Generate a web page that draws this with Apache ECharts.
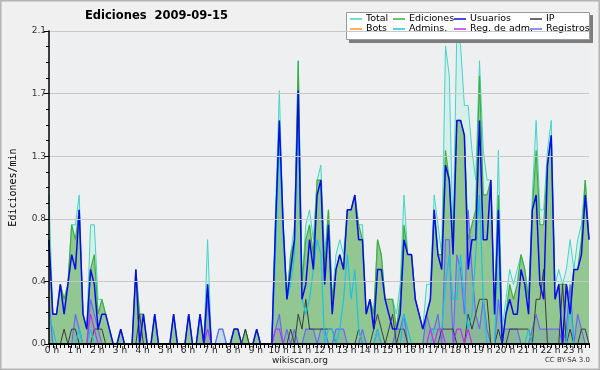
<!DOCTYPE html>
<html>
<head>
<meta charset="utf-8">
<script src="https://cdn.jsdelivr.net/npm/echarts@6/dist/echarts.min.js"></script>
<style>
  html, body { margin: 0; padding: 0; background: #f0f0f0; }
  #chart { width: 600px; height: 370px; }
</style>
</head>
<body>
<div id="chart"></div>
<script>
// one value every 10 min, edits per minute
var hourLabels = ["0 h","1 h","2 h","3 h","4 h","5 h","6 h","7 h","8 h","9 h","10 h","11 h",
  "12 h","13 h","14 h","15 h","16 h","17 h","18 h","19 h","20 h","21 h","22 h","23 h"];
var yTicks = [0, 0.42, 0.84, 1.26, 1.68, 2.1];

var total = [
  1.0,0.2,0.2,0.4,0.3,0.4, 0.8,0.8,1.0,0.2,0.1,0.8, 0.8,0.3,0.3,0.2,0.1,0.0,
  0.0,0.1,0.0,0.0,0.0,0.5, 0.2,0.2,0.0,0.0,0.2,0.0, 0.0,0.0,0.0,0.2,0.0,0.0,
  0.0,0.2,0.0,0.0,0.2,0.0, 0.7,0.0,0.0,0.1,0.1,0.0, 0.0,0.1,0.1,0.0,0.1,0.0,
  0.0,0.1,0.0,0.0,0.0,0.0, 0.9,1.7,0.8,0.3,0.6,0.8, 1.9,0.4,0.8,0.9,0.7,1.1,
  1.2,0.6,0.9,0.3,0.6,0.7, 0.6,0.9,0.9,1.0,0.8,0.8, 0.2,0.3,0.2,0.7,0.6,0.3,
  0.3,0.3,0.2,0.4,1.0,0.6, 0.6,0.3,0.2,0.1,0.4,0.4, 1.0,0.8,0.6,2.0,1.8,0.7,
  2.1,2.0,1.6,1.6,1.3,1.1, 1.9,1.3,1.1,1.1,0.2,1.3, 0.1,0.3,0.5,0.4,0.5,0.6,
  0.5,0.3,1.0,1.5,0.9,0.9, 1.3,1.5,0.4,0.5,0.4,0.5, 0.7,0.5,0.7,0.8,1.1,0.7
];
var ediciones = [
  0.7,0.2,0.2,0.4,0.3,0.4, 0.8,0.7,0.9,0.2,0.1,0.5, 0.6,0.2,0.3,0.2,0.1,0.0,
  0.0,0.1,0.0,0.0,0.0,0.5, 0.2,0.2,0.0,0.0,0.2,0.0, 0.0,0.0,0.0,0.2,0.0,0.0,
  0.0,0.2,0.0,0.0,0.2,0.0, 0.4,0.0,0.0,0.0,0.0,0.0, 0.0,0.1,0.1,0.0,0.1,0.0,
  0.0,0.1,0.0,0.0,0.0,0.0, 0.8,1.5,0.8,0.3,0.6,0.7, 1.9,0.4,0.7,0.8,0.6,1.1,
  1.1,0.5,0.9,0.3,0.5,0.6, 0.5,0.9,0.9,1.0,0.8,0.7, 0.2,0.3,0.2,0.7,0.6,0.3,
  0.3,0.3,0.1,0.3,0.8,0.6, 0.6,0.3,0.2,0.1,0.2,0.3, 0.9,0.6,0.6,1.3,1.1,0.7,
  1.5,1.5,1.4,0.7,0.8,0.9, 1.8,1.0,1.0,1.1,0.2,1.0, 0.0,0.2,0.4,0.3,0.4,0.6,
  0.5,0.3,0.9,1.3,0.8,0.8, 1.2,1.4,0.3,0.4,0.4,0.4, 0.3,0.5,0.5,0.7,1.1,0.7
];
var usuarios = [
  0.7,0.2,0.2,0.4,0.2,0.4, 0.6,0.5,0.9,0.2,0.1,0.5, 0.4,0.1,0.2,0.2,0.1,0.0,
  0.0,0.1,0.0,0.0,0.0,0.5, 0.0,0.2,0.0,0.0,0.2,0.0, 0.0,0.0,0.0,0.2,0.0,0.0,
  0.0,0.2,0.0,0.0,0.2,0.0, 0.4,0.0,0.0,0.0,0.0,0.0, 0.0,0.1,0.1,0.0,0.0,0.0,
  0.0,0.1,0.0,0.0,0.0,0.0, 0.8,1.5,0.8,0.3,0.5,0.7, 1.7,0.3,0.4,0.7,0.5,1.0,
  1.1,0.4,0.8,0.2,0.5,0.6, 0.5,0.9,0.9,1.0,0.7,0.7, 0.2,0.3,0.1,0.5,0.5,0.3,
  0.2,0.1,0.1,0.2,0.7,0.6, 0.6,0.3,0.2,0.1,0.2,0.3, 0.9,0.6,0.5,1.2,1.1,0.6,
  1.5,1.5,1.4,0.5,0.7,0.7, 1.5,0.7,0.7,1.1,0.2,0.9, 0.0,0.2,0.3,0.2,0.2,0.5,
  0.4,0.2,0.9,1.0,0.4,0.3, 1.2,1.4,0.3,0.4,0.0,0.4, 0.2,0.5,0.5,0.6,1.0,0.7
];
var ip = [
  0,0,0,0,0.1,0, 0.1,0.1,0,0,0,0, 0.1,0.1,0.1,0,0,0,
  0,0,0,0,0,0, 0.2,0,0,0,0,0, 0,0,0,0,0,0,
  0,0,0,0,0,0, 0,0,0,0,0,0, 0,0,0,0,0.1,0,
  0,0,0,0,0,0, 0,0,0,0,0.1,0, 0.2,0.1,0.3,0.1,0.1,0.1,
  0.1,0.1,0.1,0.1,0,0, 0,0,0,0,0.1,0, 0,0,0.1,0.2,0.1,0,
  0.1,0.2,0,0.1,0.1,0, 0,0,0,0,0,0, 0,0,0.1,0.1,0.1,0.1,
  0,0,0,0.2,0.1,0.2, 0.3,0.3,0.3,0,0,0.1, 0,0,0.1,0.1,0.1,0.1,
  0.1,0.1,0,0.3,0.3,0.5, 0,0,0,0,0.4,0, 0.1,0,0,0.1,0.1,0
];
var registros = [
  0.3,0,0,0,0,0, 0,0.2,0.1,0,0,0.3, 0.2,0.1,0,0,0,0,
  0,0,0,0,0,0, 0,0,0,0,0,0, 0,0,0,0,0,0,
  0,0,0,0,0,0, 0.3,0,0,0.1,0.1,0, 0,0,0,0,0,0,
  0,0,0,0,0,0, 0.1,0.2,0,0.1,0,0.1, 0,0,0.1,0.1,0.1,0,
  0.1,0.1,0,0,0.1,0.1, 0.1,0,0,0,0,0.1, 0,0,0,0.1,0,0,
  0,0,0.1,0.1,0.2,0, 0,0,0,0,0.2,0.1, 0.1,0.2,0,0.7,0.7,0,
  0.6,0.5,0.2,0.9,0.5,0.2, 0.1,0.3,0.1,0,0,0.3, 0.1,0.1,0.1,0.1,0.1,0,
  0,0,0.1,0.2,0.1,0.1, 0.1,0.1,0.1,0.1,0,0.1, 0.4,0,0.2,0.1,0,0
];
var admins = [
  0.2,0.1,0,0,0,0, 0,0,0.1,0,0,0.1, 0,0,0,0,0,0,
  0,0,0,0,0,0, 0,0,0,0,0,0, 0,0,0,0,0,0,
  0,0,0,0,0,0, 0.1,0,0,0,0,0, 0,0,0,0,0,0,
  0,0,0,0,0,0, 0.6,1.4,0.7,0.3,0.4,0.6, 1.6,0.3,0.2,0.3,0.5,0.7,
  0.6,0,0.1,0.1,0,0.1, 0.3,0.6,0.3,0.5,0.1,0, 0,0,0,0.1,0,0,
  0,0,0,0,0.2,0.1, 0,0,0,0,0,0, 0.1,0.1,0.1,0.4,0.6,0.3,
  0.3,0.6,0.3,0.1,0.2,0.6, 1.0,0.3,0,0,0,0.8, 0,0,0,0,0,0,
  0,0.1,0,0,0,0, 0,0,0,0,0,0, 0.3,0,0,0,0,0
];
var regAdm = [
  0,0,0,0,0,0, 0,0,0,0,0,0.2, 0.1,0,0,0,0,0,
  0,0,0,0,0,0, 0,0,0,0,0,0, 0,0,0,0,0,0,
  0,0,0,0,0,0, 0.1,0,0,0,0,0, 0,0,0,0,0,0,
  0,0,0,0,0,0, 0.1,0.1,0,0,0,0, 0,0,0,0,0,0,
  0,0,0,0,0,0, 0,0,0,0,0,0, 0,0,0,0,0,0,
  0,0,0,0,0,0, 0,0,0,0,0,0.1, 0,0.1,0.1,0,0,0,
  0.1,0.1,0,0.1,0,0, 0,0,0,0,0,0, 0,0,0,0,0,0,
  0,0,0,0,0,0, 0,0,0,0,0,0, 0,0,0,0,0,0
];
var bots = [];

// 144 slots, hour name on the first one of each hour
var slots = [];
hourLabels.forEach(function (h, k) {
  for (var m = 0; m < 6; m++) slots.push(m === 0 ? h : k + ":" + m + "0");
});

var font = "'DejaVu Sans', sans-serif";

function line(name, data, color, width, z, area) {
  var s = {
    name: name,
    type: "line",
    data: data,
    z: z,
    symbol: "none",
    smooth: false,
    itemStyle: { color: color },
    lineStyle: { color: color, width: width },
    emphasis: { disabled: true },
  };
  if (area) s.areaStyle = { color: area, opacity: 1 };
  return s;
}

function legendCol(left, names) {
  return {
    orient: "vertical",
    left: left,
    top: 14,
    data: names,
    icon: "rect",
    itemWidth: 12,
    itemHeight: 1.5,
    itemGap: 0,
    padding: 0,
    selectedMode: false,
    z: 8,
    textStyle: { fontSize: 9.5, lineHeight: 10, color: "#000", fontFamily: font, padding: [0, 0, 0, -1] },
  };
}

var chart = echarts.init(document.getElementById("chart"));
chart.setOption({
  animation: false,
  backgroundColor: "#f0f0f0",
  grid: { left: 46, right: 11, top: 31, bottom: 26, show: true, backgroundColor: "#eeeff1", borderWidth: 0 },
  legend: [
    legendCol(350, ["Total", "Bots"]),
    legendCol(393, ["Ediciones", "Admins."]),
    legendCol(454, ["Usuarios", "Reg. de adm."]),
    legendCol(530, ["IP", "Registros"]),
  ],
  xAxis: {
    type: "category",
    data: slots,
    boundaryGap: false,
    z: 10,
    axisLine: { lineStyle: { color: "#000", width: 2 } },
    axisTick: { interval: 0, length: 4, lineStyle: { color: "#000", width: 1 } },
    axisLabel: { interval: 5, margin: 2, fontSize: 9, color: "#222", fontFamily: font, padding: [0, 0, 0, 6] },
    splitLine: { show: false },
  },
  yAxis: {
    type: "value",
    min: yTicks[0],
    max: yTicks[yTicks.length - 1],
    interval: yTicks[1],
    z: 10,
    name: "Ediciones/min",
    nameLocation: "middle",
    nameGap: 31,
    nameTextStyle: { fontSize: 10, color: "#000", fontFamily: "'DejaVu Sans Mono', monospace" },
    axisLine: { show: true, lineStyle: { color: "#000", width: 1.5 } },
    axisTick: { show: true, length: 5, lineStyle: { color: "#000" } },
    minorTick: { show: true, splitNumber: 4, length: 3, lineStyle: { color: "#000" } },
    axisLabel: { fontSize: 9, color: "#333", margin: 3, fontFamily: font,
      formatter: function (v) { return v.toFixed(1); } },
    splitLine: { lineStyle: { color: "#c8c8c8", width: 1 } },
  },
  series: [
    line("Total", total, "#43d5c6", 1, 1, "#d6efeb"),
    line("Ediciones", ediciones, "#3fae3f", 1.2, 2, "#92c792"),
    line("Registros", registros, "#6a6af2", 1.2, 3, "rgba(70,70,230,0.12)"),
    line("IP", ip, "#3a3a3a", 1, 4),
    line("Admins.", admins, "#1cc3df", 1.2, 5),
    line("Reg. de adm.", regAdm, "#c231ea", 1.2, 6),
    line("Bots", bots, "#ff9a2a", 1.2, 6),
    line("Usuarios", usuarios, "#0b0be8", 1.5, 7),
  ],
  graphic: [
    { type: "rect", z: 0, silent: true, shape: { x: 0.75, y: 0.75, width: 598.5, height: 368.5 },
      style: { fill: null, stroke: "#b4b4b4", lineWidth: 1.5 } },
    { type: "rect", z: 6, silent: true, shape: { x: 349, y: 15, width: 244, height: 28 }, style: { fill: "#7d7d7d" } },
    { type: "rect", z: 7, silent: true, shape: { x: 346.5, y: 12.5, width: 243, height: 27 },
      style: { fill: "#fff", stroke: "#9a9a9a", lineWidth: 1 } },
    { type: "text", z: 7, left: 85, top: 10, silent: true,
      style: { text: "Ediciones  2009-09-15", fontSize: 11.5, fontWeight: "bold", fill: "#000", fontFamily: font } },
    { type: "text", z: 7, left: "center", top: 356, silent: true,
      style: { text: "wikiscan.org", fontSize: 9, fill: "#222", fontFamily: font } },
    { type: "text", z: 7, right: 10, top: 357, silent: true,
      style: { text: "CC BY-SA 3.0", fontSize: 7, fill: "#333", fontFamily: font } },
  ],
});
</script>
</body>
</html>
